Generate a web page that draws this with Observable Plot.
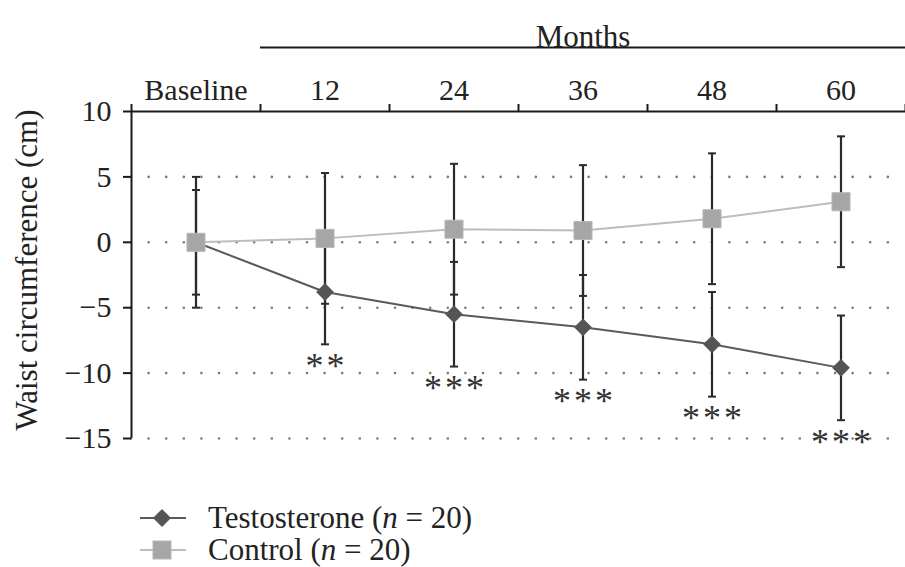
<!DOCTYPE html>
<html>
<head>
<meta charset="utf-8">
<script src="https://cdn.jsdelivr.net/npm/d3@7"></script>
<script src="https://cdn.jsdelivr.net/npm/@observablehq/plot@0.6"></script>
<style>
  html, body { margin: 0; padding: 0; background: #fff; }
  body { position: relative; width: 905px; height: 567px; overflow: hidden; font-family: "Liberation Serif", "DejaVu Serif", serif; }
  #chart svg { display: block; }
  #legend { position: absolute; left: 140px; top: 502px; font-size: 31px; color: #222; }
  .row { height: 32px; display: flex; align-items: center; }
  .row svg { width: 48px; height: 32px; margin-right: 20px; }
</style>
</head>
<body>
<div id="chart"></div>
<div id="legend">
  <div class="row">
    <svg viewBox="0 0 48 32"><line x1="0" y1="16" x2="46" y2="16" stroke="#5a5a5a" stroke-width="2"/><polygon points="22,7 31,16 22,25 13,16" fill="#555"/></svg>
    <span>Testosterone (<i>n</i> = 20)</span>
  </div>
  <div class="row">
    <svg viewBox="0 0 48 32"><line x1="0" y1="16" x2="46" y2="16" stroke="#bdbdbd" stroke-width="2"/><rect x="13" y="7" width="18" height="18" fill="#a6a6a6" stroke="#b8b8b8"/></svg>
    <span>Control (<i>n</i> = 20)</span>
  </div>
</div>
<script>
// ---- data ----
const months = ["Baseline", "12", "24", "36", "48", "60"];
const testosteroneMean = [0, -3.8, -5.5, -6.5, -7.8, -9.6];
const testosteroneSD   = [4, 4, 4, 4, 4, 4];
const controlMean      = [0, 0.3, 1.0, 0.9, 1.8, 3.1];
const controlSD        = [5, 5, 5, 5, 5, 5];
const significance     = ["", "**", "***", "***", "***", "***"];
const yTicks = [-15, -10, -5, 0, 5, 10];
const gridValues = [-15, -10, -5, 0, 5];
const headerTitle = "Months";
const yLabel = "Waist circumference (cm)";

// ---- tables ----
const idx = months.map((_, i) => i);
const testo = idx.map(i => ({i, m: testosteroneMean[i], lo: testosteroneMean[i] - testosteroneSD[i], hi: testosteroneMean[i] + testosteroneSD[i], sig: significance[i]}));
const ctrl  = idx.map(i => ({i, m: controlMean[i], lo: controlMean[i] - controlSD[i], hi: controlMean[i] + controlSD[i]}));
const boundaries = d3.range(-0.5, months.length, 1);
const xMin = -0.5, xMax = months.length - 0.5;

const capSymbol = {
  draw(context, size) {
    const w = Math.sqrt(size / Math.PI);
    context.moveTo(-w, 0);
    context.lineTo(w, 0);
  }
};

const caps = (data) => [
  Plot.dot(data, {x: "i", y: "lo", symbol: capSymbol, r: 4, fill: "none", stroke: "#2a2a2a", strokeWidth: 2}),
  Plot.dot(data, {x: "i", y: "hi", symbol: capSymbol, r: 4, fill: "none", stroke: "#2a2a2a", strokeWidth: 2})
];

const plot = Plot.plot({
  width: 905,
  height: 460,
  marginLeft: 131,
  marginRight: 0,
  marginTop: 111,
  marginBottom: 22,
  style: {fontFamily: "'Liberation Serif', 'DejaVu Serif', serif", fontSize: "30px", color: "#222", background: "#fff", overflow: "visible"},
  x: {type: "linear", domain: [xMin, xMax]},
  y: {domain: [-15, 10]},
  marks: [
    // dotted grid
    Plot.ruleY(gridValues, {stroke: "#7a7a7a", strokeWidth: 2.6, strokeDasharray: "0 17.6", strokeLinecap: "round"}),
    // frame lines
    Plot.ruleY([10], {stroke: "#1a1a1a", strokeWidth: 2}),
    Plot.ruleX([xMin], {stroke: "#1a1a1a", strokeWidth: 2}),
    // y axis
    Plot.axisY({ticks: yTicks, tickSize: 8, tickPadding: 12, strokeWidth: 2, stroke: "#1a1a1a", fill: "#222", label: null, fontSize: 30}),
    // top axis ticks at band boundaries
    Plot.axisX({anchor: "top", ticks: boundaries, tickSize: 8, tickFormat: () => "", strokeWidth: 2, stroke: "#1a1a1a", label: null}),
    // category labels
    Plot.text(idx, {x: d => d, text: d => months[d], frameAnchor: "top", dy: -33, fontSize: 30, fill: "#222"}),
    // Months header
    Plot.ruleY([10], {x1: 0.5, x2: xMax, dy: -64, stroke: "#1a1a1a", strokeWidth: 2}),
    Plot.text([headerTitle], {x: (0.5 + xMax) / 2, frameAnchor: "top", dy: -87, fontSize: 31, fill: "#222"}),
    // y label
    Plot.text([yLabel], {frameAnchor: "left", textAnchor: "middle", rotate: -90, dx: -104, dy: -5, fontSize: 31, fill: "#222"}),
    // error bars
    Plot.ruleX(ctrl, {x: "i", y1: "lo", y2: "hi", stroke: "#2a2a2a", strokeWidth: 2.2}),
    ...caps(ctrl),
    Plot.ruleX(testo, {x: "i", y1: "lo", y2: "hi", stroke: "#2a2a2a", strokeWidth: 2.2}),
    ...caps(testo),
    // lines
    Plot.line(testo, {x: "i", y: "m", stroke: "#5a5a5a", strokeWidth: 2}),
    Plot.line(ctrl, {x: "i", y: "m", stroke: "#bdbdbd", strokeWidth: 2}),
    // markers
    Plot.dot(testo, {x: "i", y: "m", symbol: "diamond2", r: 8, fill: "#555", stroke: "none"}),
    Plot.dot(ctrl, {x: "i", y: "m", symbol: "square", r: 10.2, fill: "#a6a6a6", stroke: "#b8b8b8", strokeWidth: 1}),
    // significance asterisks
    Plot.text(testo.filter(d => d.sig), {x: "i", y: "lo", text: d => d.sig.split("").join("\u200A"), dy: 22, fontSize: 36, fill: "#333"})
  ]
});
document.getElementById("chart").appendChild(plot);
</script>
</body>
</html>
